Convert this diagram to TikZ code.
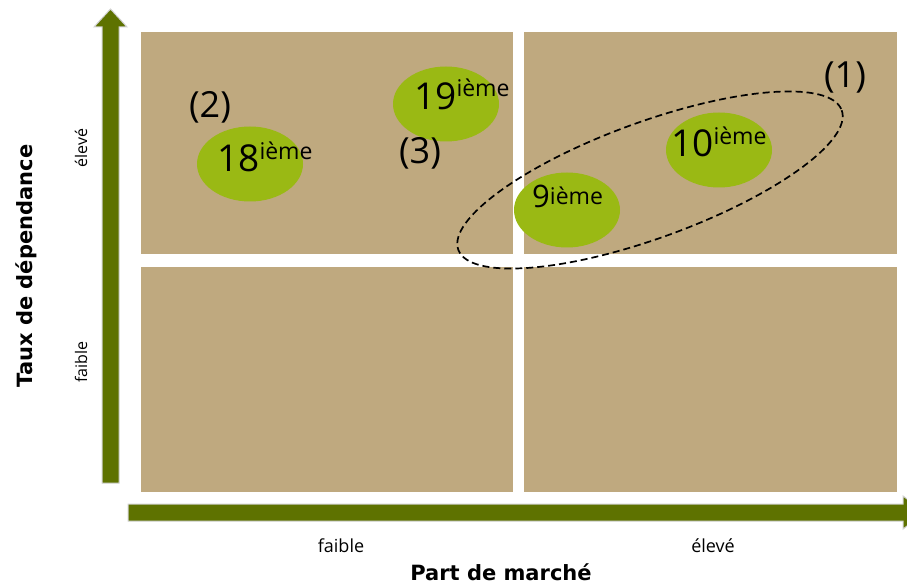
\documentclass[tikz,border=0pt]{standalone}
\usepackage{fontspec}
\usetikzlibrary{shapes.geometric}
\setmainfont{Open Sans}
\newfontfamily\titlefont{DejaVu Sans}
\definecolor{sand}{RGB}{191,169,127}
\definecolor{leaf}{RGB}{154,185,20}
\definecolor{axisgreen}{RGB}{94,114,0}
\newcommand{\rankno}[2]{{\fontsize{37}{37}\selectfont #1}\raisebox{#2pt}{\fontsize{23}{23}\selectfont ième}}

\begin{document}
\begin{tikzpicture}[x=1pt,y=-1pt,
  bubble/.style={ellipse, fill=leaf, minimum width=106, minimum height=75, inner sep=0},
  ranktext/.style={anchor=base west, inner sep=0},
  tag/.style={inner sep=0, font=\fontsize{36}{36}\selectfont},
  tick/.style={inner sep=0, font=\fontsize{18}{18}\selectfont},
  sidetick/.style={inner sep=0, rotate=90, font=\fontsize{16}{16}\selectfont},
  axistitle/.style={inner sep=0, font=\titlefont\bfseries\fontsize{21}{21}\selectfont}]

\useasboundingbox (0,0) rectangle (907,585);
\clip (0,0) rectangle (907,585);

% Quadrants
\fill[sand] (141,32) rectangle (513,254);
\fill[sand] (524,32) rectangle (897,254);
\fill[sand] (141,267) rectangle (513,492);
\fill[sand] (524,267) rectangle (897,492);

% Axes
\fill[axisgreen, draw=gray!35, line width=1pt] (102,483) -- (102,27) -- (94,27) -- (110.5,9) -- (127,27) -- (119,27) -- (119,483) -- cycle;
\fill[axisgreen, draw=gray!35, line width=1pt] (128,504) -- (903,504) -- (903,496) -- (925,512.5) -- (903,529) -- (903,521) -- (128,521) -- cycle;

% Bubbles
\node[bubble] (b18) at (250,164) {};
\node[bubble] (b19) at (446,104) {};
\node[bubble] (b9) at (567,210) {};
\node[bubble] (b10) at (719,150) {};

\node[ranktext] (t18) at (217,172) {\rankno{18}{12}};
\node[ranktext] (t19) at (414,110) {\rankno{19}{13}};
\node[ranktext] (t9) at (532,205) {\raisebox{-3pt}{\fontsize{31}{31}\selectfont 9}\fontsize{23}{23}\selectfont ième};
\node[ranktext] (t10) at (671,157) {\rankno{10}{12}};

% Group
\draw[dashed, dash pattern=on 7pt off 4pt, line width=1.7pt, rotate around={20:(650,180)}] (650,180) ellipse (204 and 58);

% Marks
\node[tag] (m1) at (845,78) {(1)};
\node[tag] (m2) at (210,107) {(2)};
\node[tag] (m3) at (420,153) {(3)};

% Labels
\node[tick, anchor=base] (xlow) at (341,552) {faible};
\node[tick, anchor=base] (xhigh) at (713,552) {élevé};
\node[sidetick] (yhigh) at (81,148) {élevé};
\node[sidetick] (ylow) at (81,362) {faible};
\node[axistitle, anchor=base] (xtitle) at (501,580) {Part de marché};
\node[axistitle, rotate=90] (ytitle) at (26,266) {Taux de dépendance};

\end{tikzpicture}
\end{document}
